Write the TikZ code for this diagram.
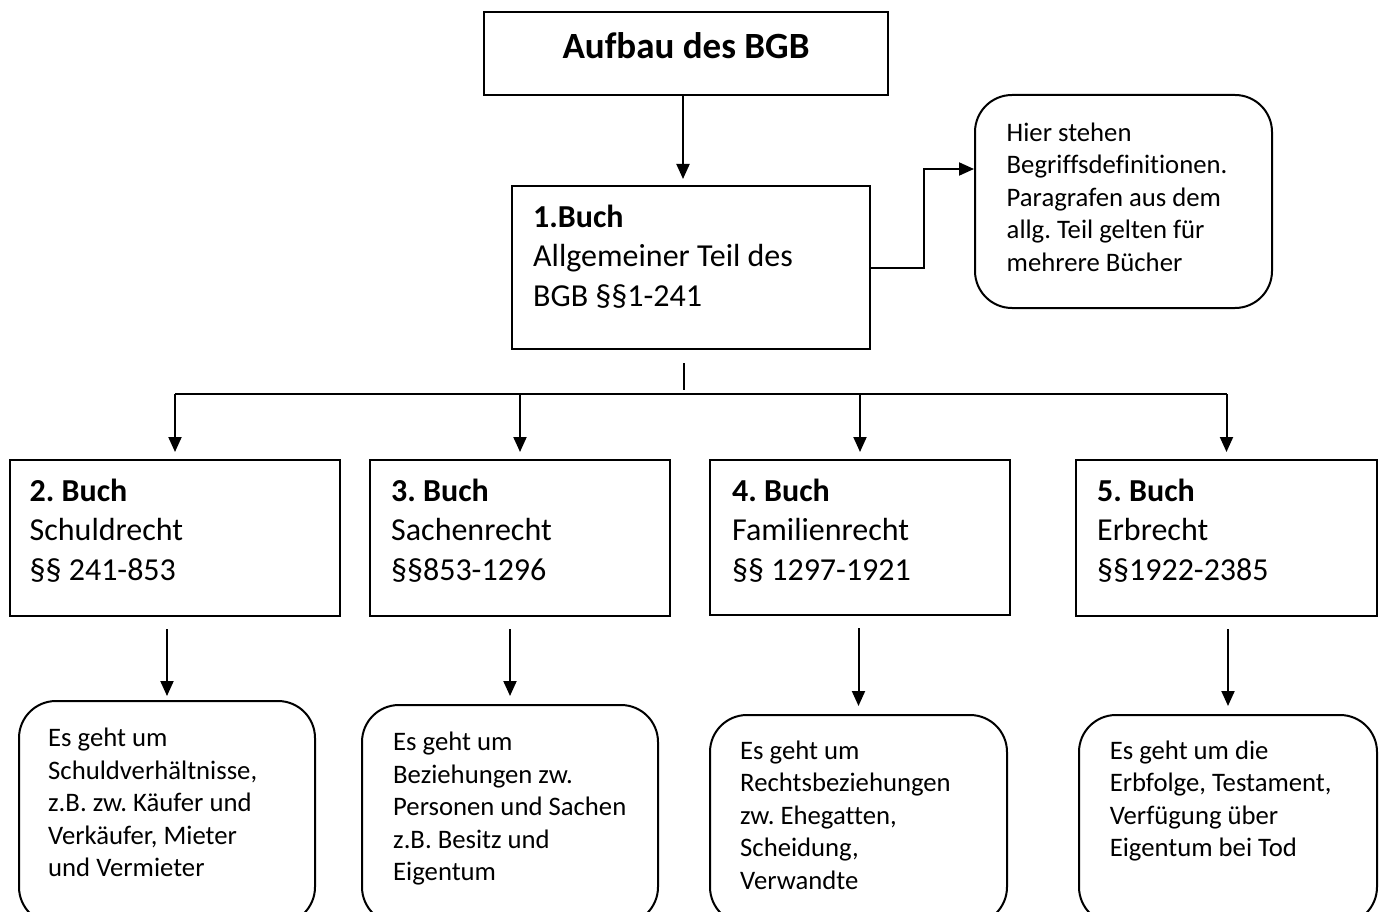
\documentclass[tikz,border=0pt]{standalone}
\usepackage{fontspec}
\setmainfont{Carlito}[Ligatures=NoCommon]
\usepackage{tikz}
\usetikzlibrary{positioning,arrows.meta,calc}
\frenchspacing

\begin{document}
\begin{tikzpicture}[
    x=1pt, y=-1pt,
    box/.style={draw, line width=2pt, inner sep=0pt},
    titlebox/.style={box},
    bookbox/.style={box},
    notebox/.style={box, rounded corners=37pt},
    titletext/.style={inner sep=0pt, font=\fontsize{37}{45}\selectfont\bfseries},
    booktext/.style={inner sep=0pt, align=left, anchor=base west,
                     font=\fontsize{32}{39.5}\selectfont},
    notetext/.style={inner sep=0pt, align=left, anchor=base west,
                     font=\fontsize{26.7}{32.5}\selectfont},
    line/.style={line width=2pt},
    arrow/.style={-{Triangle[length=15pt,width=13pt]}, line width=2pt},
]
\useasboundingbox (0,0) rectangle (1379,912);

% =============================================
% Title and 1. Buch
% =============================================
\node[titlebox, minimum width=404pt, minimum height=83pt] at (686,53.5) (title) {};
\node[titletext, anchor=base] at (686,59) (titlet) {Aufbau des BGB};

\node[bookbox, minimum width=358pt, minimum height=163pt] at (691,267.5) (b1) {};
% text nodes sit on the baseline of their last line
\node[booktext] at (533,306) (b1t)
    {\textbf{1.Buch}\\Allgemeiner Teil des\\BGB §§1-241};

\draw[arrow, shorten >=6pt] ([xshift=-3pt]title.south) -- ([xshift=-3pt]title.south |- b1.north);

% note on the right
\node[notebox, minimum width=297pt, minimum height=213pt] at (1123.5,201.5) (note) {};
\node[notetext] at (1006.5,271.5) (notet)
    {Hier stehen\\Begriffsdefinitionen.\\Paragrafen aus dem\\allg. Teil gelten für\\mehrere Bücher};

\draw[arrow] (b1.east) -- ++(53,0) |- ([yshift=32.5pt]note.west);

% =============================================
% Books 2 to 5
% =============================================
\node[bookbox, minimum width=330pt, minimum height=156pt] at (175,538) (b2) {};
\node[bookbox, minimum width=300pt, minimum height=156pt] at (520,538) (b3) {};
\node[bookbox, minimum width=300pt, minimum height=155pt] at (860,537.5) (b4) {};
\node[bookbox, minimum width=301pt, minimum height=156pt] at (1226.5,538) (b5) {};

\node[booktext] at (29.5,580) (b2t) {\textbf{2. Buch}\\Schuldrecht\\§§ 241-853};
\node[booktext] at (391,580) (b3t) {\textbf{3. Buch}\\Sachenrecht\\§§853-1296};
\node[booktext] at (732,580) (b4t) {\textbf{4. Buch}\\Familienrecht\\§§ 1297-1921};
\node[booktext] at (1097,580) (b5t) {\textbf{5. Buch}\\Erbrecht\\§§1922-2385};

% branching
\coordinate (stub) at (684,363);
\coordinate (bus) at (684,394);
\draw[line] (stub) -- ([yshift=4pt]bus);
\draw[line] (bus -| b2.north) -- (bus -| b5.north);
\foreach \b in {b2,b3,b4,b5}
    \draw[arrow, shorten >=7pt] (bus -| \b.north) -- (\b.north);

% =============================================
% Descriptions
% =============================================
\node[notebox, minimum width=296pt, minimum height=223pt] at (167,812.5) (d1) {};
\node[notebox, minimum width=296pt, minimum height=219pt] at (510,814.5) (d2) {};
\node[notebox, minimum width=297pt, minimum height=209pt] at (858.5,819.5) (d3) {};
\node[notebox, minimum width=298pt, minimum height=209pt] at (1228,819.5) (d4) {};

\node[notetext] at (48,876.7) (d1t)
    {Es geht um\\Schuldverhältnisse,\\z.B. zw. Käufer und\\Verkäufer, Mieter\\und Vermieter};
\node[notetext] at (393,880.7) (d2t)
    {Es geht um\\Beziehungen zw.\\Personen und Sachen\\z.B. Besitz und\\Eigentum};
\node[notetext] at (740,889.3) (d3t)
    {Es geht um\\Rechtsbeziehungen\\zw. Ehegatten,\\Scheidung,\\Verwandte};
\node[notetext] at (1109.6,856.8) (d4t)
    {Es geht um die\\Erbfolge, Testament,\\Verfügung über\\Eigentum bei Tod};

\draw[arrow, shorten <=12pt, shorten >=4pt] (b2.south -| d1.north) -- (d1.north);
\draw[arrow, shorten <=12pt, shorten >=8pt] (b3.south -| d2.north) -- (d2.north);
\draw[arrow, shorten <=12pt, shorten >=8pt] (b4.south -| d3.north) -- (d3.north);
\draw[arrow, shorten <=12pt, shorten >=8pt] (b5.south -| d4.north) -- (d4.north);

\end{tikzpicture}
\end{document}
